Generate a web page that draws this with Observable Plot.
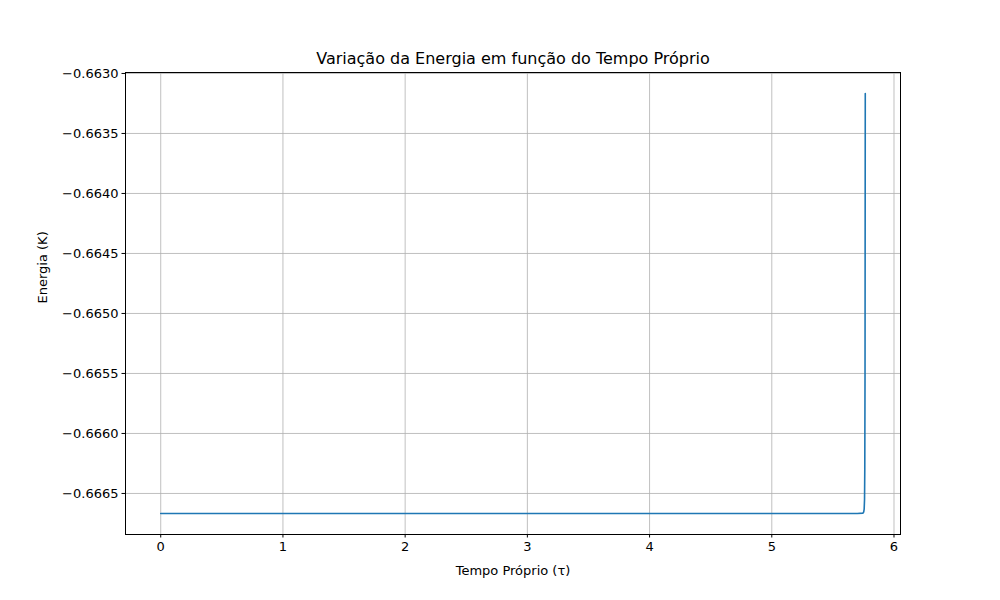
<!DOCTYPE html>
<html>
<head>
<meta charset="utf-8">
<script src="https://cdn.jsdelivr.net/npm/d3@7"></script>
<script src="https://cdn.jsdelivr.net/npm/@observablehq/plot@0.6"></script>
<style>
  html, body { margin: 0; padding: 0; background: #fff; }
  svg { font-family: "DejaVu Sans", sans-serif; }
</style>
</head>
<body>
<div id="chart"></div>
<script>
const title = "Variação da Energia em função do Tempo Próprio";
const xLabel = "Tempo Próprio (τ)";
const yLabel = "Energia (K)";
const tau = [0, 1, 2, 3, 4, 5, 5.70, 5.745, 5.752, 5.756, 5.759, 5.761, 5.763, 5.765];
const energy = [-0.666667, -0.666667, -0.666667, -0.666667, -0.666667, -0.666667, -0.666667, -0.666664, -0.666655, -0.66663, -0.66655, -0.66630, -0.6655, -0.663167];
const xTicks = [0, 1, 2, 3, 4, 5, 6];
const yTicks = [-0.6665, -0.6660, -0.6655, -0.6650, -0.6645, -0.6640, -0.6635, -0.6630];

const data = tau.map((t, i) => ({tau: t, energy: energy[i]}));
const fmt = d3.format(".4f");

const chart = Plot.plot({
  width: 1000,
  height: 600,
  marginLeft: 125,
  marginRight: 100,
  marginTop: 72,
  marginBottom: 66,
  style: {fontFamily: "DejaVu Sans, sans-serif", fontSize: "13px", background: "#fff", color: "#000"},
  x: {domain: [-0.28825, 6.05325]},
  y: {domain: [-0.666842, -0.662992]},
  marks: [
    Plot.ruleX(xTicks, {x: d => d, stroke: "#b0b0b0", strokeWidth: 0.8, strokeOpacity: 1}),
    Plot.ruleY(yTicks, {y: d => d, stroke: "#b0b0b0", strokeWidth: 0.8, strokeOpacity: 1}),
    Plot.line(data, {x: "tau", y: "energy", stroke: "#1f77b4", strokeWidth: 1.6}),
    Plot.frame({stroke: "#000", strokeWidth: 1}),
    Plot.axisX(xTicks, {tickSize: 3.5, tickPadding: 3.5, fontSize: 13, label: null, tickFormat: d => String(d)}),
    Plot.axisY(yTicks, {tickSize: 3.5, tickPadding: 3.5, fontSize: 13, label: null, tickFormat: d => fmt(d)}),
    Plot.text([title], {frameAnchor: "top", lineAnchor: "middle", dy: -14, fontSize: 16, text: d => d, fill: "#000"}),
    Plot.text([xLabel], {frameAnchor: "bottom", lineAnchor: "middle", dy: 36, fontSize: 13, text: d => d, fill: "#000"}),
    Plot.text([yLabel], {frameAnchor: "left", lineAnchor: "middle", dx: -83, rotate: -90, fontSize: 13, text: d => d, fill: "#000"})
  ]
});
document.getElementById("chart").append(chart);
</script>
</body>
</html>
